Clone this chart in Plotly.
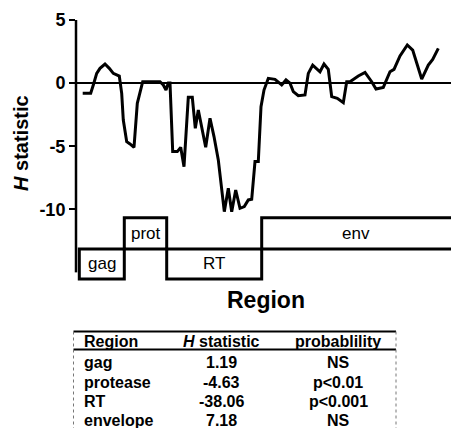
import plotly.graph_objects as go

# ---- data ----
position = [6.7, 14.7, 17.3, 20.7, 24, 29, 33.3, 37.3, 43.3, 45.7, 47.3, 50.7, 54, 58,
            61.3, 64, 66.7, 84, 87.3, 90, 92.3, 94, 96.7, 101.3, 104.7, 108, 112.3,
            116.3, 119.3, 122.3, 129.7, 134, 138, 142.3, 145.7, 148.3, 152.3, 155.7,
            159.7, 164, 168.3, 172.3, 175.7, 179, 182.3, 185, 188, 192.3, 199, 205.7,
            210, 214, 217.3, 222.3, 229, 232.3, 236.7, 244, 248, 252.3, 255.7, 261.3,
            267.3, 270.7, 274, 277.3, 282.3, 289, 295.7, 300, 307.3, 314, 318, 324,
            331.3, 336.7, 345.7, 352.3, 356.7, 362.3]
h_stat = [-0.81, -0.81, -0.15, 0.77, 1.17, 1.51, 1.17, 0.77, 0.56, -0.81, -2.93, -4.64,
          -4.82, -5.09, -1.6, -0.81, 0.11, 0.11, -0.15, -0.55, 0.0, 0.0, -5.43, -5.43,
          -5.09, -6.62, -1.13, -1.13, -3.58, -2.13, -5.09, -2.79, -4.24, -6.09, -8.21,
          -10.19, -8.34, -10.19, -8.47, -9.92, -9.79, -9.26, -9.21, -6.22, -6.22, -1.87,
          -0.55, 0.38, 0.30, -0.15, 0.25, 0.0, -0.67, -1.0, -0.94, 0.77, 1.43, 0.9,
          1.51, 1.09, -1.07, -1.21, -1.55, 0.11, 0.11, 0.30, 0.56, 0.85, 0.11, -0.47,
          -0.34, 0.9, 1.09, 2.15, 3.02, 2.62, 0.32, 1.43, 1.88, 2.75]

y_tickvals = [5, 0, -5, -10]
y_ticktext = ["5", "0", "-5", "-10"]

region_names = ["gag", "prot", "RT", "env"]
region_start = [3.3, 48.3, 90.7, 185.7]
region_end = [48.3, 90.7, 185.7, 400]
region_low = [-15.52, -13.15, -15.52, -13.15]
region_high = [-13.15, -10.67, -13.15, -10.67]

table_header = ["Region", "<i>H</i> statistic", "probablility"]
table_region = ["gag", "protease", "RT", "envelope"]
table_h = ["1.19", "-4.63", "-38.06", "7.18"]
table_p = ["NS", "p<0.01", "p<0.001", "NS"]

# ---- layout geometry (pixels) ----
W, H = 451, 428
L, R, T, B = 76, 0, 20, 143
PW, PH = W - L - R, H - T - B


def px(xp):
    return (xp - L) / PW


def py(yp):
    return (H - B - yp) / PH


FONT = "Liberation Sans, Arial, Helvetica, sans-serif"

fig = go.Figure()
fig.add_trace(go.Scatter(x=position, y=h_stat, mode="lines",
                         line=dict(color="black", width=3), showlegend=False,
                         hoverinfo="skip"))

shapes = []
annotations = []

# y axis line
shapes.append(dict(type="line", xref="paper", yref="y", x0=0, x1=0, y0=-15, y1=5,
                   line=dict(color="black", width=2.5)))

# region boxes
xmax = 375
for name, s, e, lo, hi in zip(region_names, region_start, region_end, region_low, region_high):
    shapes.append(dict(type="rect", xref="x", yref="y", x0=s, x1=e, y0=lo, y1=hi,
                       line=dict(color="black", width=3), fillcolor="rgba(0,0,0,0)"))
    annotations.append(dict(xref="x", yref="y", x=(s + min(e, xmax)) / 2, y=(lo + hi) / 2,
                            xanchor="center", yanchor="middle",
                            text=name, showarrow=False,
                            font=dict(family=FONT, size=17, color="black")))

# axis titles
annotations.append(dict(xref="paper", yref="paper", x=px(21), y=py(143),
                        xanchor="center", yanchor="middle",
                        text="<b><i>H</i> statistic</b>", textangle=-90, showarrow=False,
                        font=dict(family=FONT, size=20, color="black")))
annotations.append(dict(xref="paper", yref="paper", x=px(266), y=py(300),
                        xanchor="center", yanchor="middle",
                        text="<b>Region</b>", showarrow=False,
                        font=dict(family=FONT, size=23, color="black")))

# table
tbl_left, tbl_right = 73.5, 396
row_y = [341.5, 362, 382, 401.5, 420]
col_x = [81.5, 221, 338]
shapes.append(dict(type="line", xref="paper", yref="paper", x0=px(tbl_left), x1=px(tbl_right),
                   y0=py(331.5), y1=py(331.5), line=dict(color="black", width=2)))
shapes.append(dict(type="line", xref="paper", yref="paper", x0=px(tbl_left), x1=px(tbl_right),
                   y0=py(349.5), y1=py(349.5), line=dict(color="black", width=2)))
for xb in (tbl_left, tbl_right):
    shapes.append(dict(type="line", xref="paper", yref="paper", x0=px(xb), x1=px(xb),
                       y0=py(331.5), y1=py(428), line=dict(color="#777777", width=1, dash="dot")))

for j, txt in enumerate(table_header):
    annotations.append(dict(xref="paper", yref="paper", x=px(col_x[j]), y=py(row_y[0]),
                            xanchor="left" if j == 0 else "center", yanchor="middle",
                            text="<b>" + txt + "</b>", showarrow=False,
                            font=dict(family=FONT, size=16, color="black")))
for i in range(len(table_region)):
    vals = [table_region[i], table_h[i], table_p[i]]
    for j, txt in enumerate(vals):
        annotations.append(dict(xref="paper", yref="paper", x=px(col_x[j]), y=py(row_y[i + 1]),
                                xanchor="left" if j == 0 else "center", yanchor="middle",
                                text="<b>" + txt.replace("<", "&lt;") + "</b>", showarrow=False,
                                font=dict(family=FONT, size=16, color="black")))

fig.update_layout(
    width=W, height=H,
    margin=dict(l=L, r=R, t=T, b=B, pad=0),
    paper_bgcolor="white", plot_bgcolor="white",
    xaxis=dict(range=[0, xmax], visible=False, fixedrange=True),
    yaxis=dict(range=[-16, 5], tickvals=y_tickvals, ticktext=y_ticktext,
               showgrid=False, showline=False, zeroline=True, zerolinecolor="black",
               zerolinewidth=2, ticks="outside", ticklen=6, tickwidth=2, tickcolor="black",
               tickfont=dict(family=FONT, size=18, color="black", weight="bold"),
               fixedrange=True),
    shapes=shapes, annotations=annotations,
)

fig.write_html("out.html", config={"displayModeBar": False},
               post_script="document.body.style.margin='0';document.body.style.overflow='hidden';")
